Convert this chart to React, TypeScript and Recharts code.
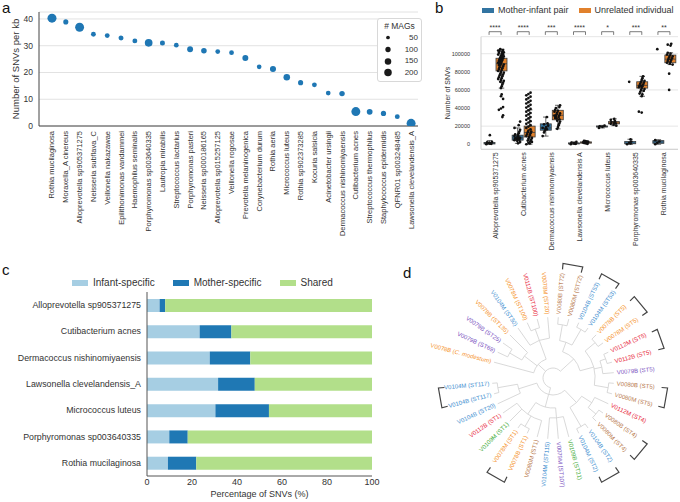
import React from "react";
import {
  ScatterChart,
  Scatter,
  XAxis,
  YAxis,
  ZAxis,
  CartesianGrid,
  Legend,
  ComposedChart,
  Bar,
  BarChart,
  PieChart,
  Pie,
} from "recharts";

const FONT = "'Liberation Sans', Arial, Helvetica, sans-serif";
const TEXT = "#333";
const RAD = Math.PI / 180;

// ---------- a: SNVs per kb ----------
const speciesA = [
  "Rothia mucilaginosa", "Moraxella_A cinereus", "Alloprevotella sp905371275", "Neisseria subflava_C",
  "Veillonella nakazawae", "Epilithonimonas vandammei", "Haemophilus seminalis", "Porphyromonas sp003640335",
  "Lautropia mirabilis", "Streptococcus lactarius", "Porphyromonas pasteri", "Neisseria sp000186165",
  "Alloprevotella sp015257125", "Veillonella rogosae", "Prevotella melaninogenica", "Corynebacterium durum",
  "Rothia aeria", "Micrococcus luteus", "Rothia sp902373285", "Kocuria salsicia", "Acinetobacter ursingii",
  "Dermacoccus nishinomiyaensis", "Cutibacterium acnes", "Streptococcus thermophilus",
  "Staphylococcus epidermidis", "QFNR01 sp003248485", "Lawsonella clevelandensis_A",
];
const snvPerKb = [40.3, 38.9, 36.9, 34.3, 33.8, 32.9, 31.8, 31.1, 31.0, 30.2, 28.7, 28.1, 27.8, 27.4, 25.4, 22.1, 21.3, 18.2, 16.2, 15.4, 12.3, 12.1, 5.4, 5.3, 4.7, 3.5, 1.0];
const magCount = [290, 60, 280, 50, 48, 55, 50, 200, 55, 45, 96, 80, 45, 45, 100, 42, 105, 130, 62, 48, 44, 75, 285, 90, 65, 50, 285];
const magLegend = [50, 100, 150, 200];

// ---------- b: SNVs between pairs ----------
const groupsB = [
  "Alloprevotella sp905371275", "Cutibacterium acnes", "Dermacoccus nishinomiyaensis",
  "Lawsonella clevelandensis A", "Micrococcus luteus", "Porphyromonas sp003640335", "Rothia mucilaginosa",
];
const sigB = ["****", "****", "***", "****", "*", "***", "**"];
// [low whisker, q1, median, q3, high whisker]
const motherBox = [
  [0, 300, 1000, 2000, 4000],
  [1000, 4500, 7000, 10000, 18000],
  [9000, 15500, 18000, 22500, 30000],
  [0, 300, 800, 1500, 2500],
  [18000, 19000, 19500, 20200, 20800],
  [0, 500, 1200, 3000, 5500],
  [0, 1000, 2500, 4000, 5000],
];
const unrelatedBox = [
  [62000, 81000, 89000, 95000, 105000],
  [0, 8000, 13000, 20000, 38000],
  [17000, 27000, 32000, 37500, 43000],
  [500, 1200, 1800, 2600, 3800],
  [20500, 22500, 23500, 25000, 28000],
  [53000, 62000, 65000, 69000, 75000],
  [88000, 90000, 94000, 98500, 101000],
];
const motherPts = [
  [0, 500, 800, 1200, 1500, 2000, 2500, 10000],
  [1000, 2500, 3500, 4500, 5000, 5500, 6000, 6500, 7000, 7500, 8000, 9000, 10000, 11000, 12000, 14000, 16000, 18000, 21000, 25000],
  [9000, 13000, 15000, 16500, 17000, 18000, 19000, 20500, 22000, 23000, 30000],
  [0, 400, 800, 1200, 1800, 2500],
  [18000, 19200, 19800, 20500],
  [0, 800, 1500, 3000, 5500, 69000],
  [0, 1500, 3000, 4500, 105000],
];
const unrelatedPts = [
  [105000, 104000, 103500, 103000, 102000, 101500, 101000, 100000, 99500, 99000, 98000, 97500, 97000, 96000, 95500, 95000, 94000, 93500, 93000, 92000, 91500, 91000, 90000, 89500, 89000, 88000, 87500, 87000, 86000, 85000, 84000, 83000, 82000, 81000, 80000, 79000, 78000, 77000, 76000, 75000, 74000, 73000, 72000, 71000, 70000, 69000, 68000, 66000, 64000, 62000, 55000, 53000, 50000, 41000, 39500, 38000, 32000, 30000],
  [0, 800, 1500, 2500, 3200, 4000, 5000, 6000, 7000, 8000, 9000, 10000, 11000, 12000, 13000, 14000, 15000, 16500, 18000, 19500, 21000, 22500, 24000, 25500, 27000, 28500, 30000, 31500, 33000, 34500, 36000, 37500, 39000, 40500, 42000, 43500, 45000, 46500, 48000, 49500, 51000, 52500, 54000, 55500, 57000],
  [17000, 19000, 21000, 23000, 25000, 26000, 27500, 28500, 29000, 30000, 31000, 31500, 32000, 33000, 34000, 35000, 36000, 37000, 38000, 40000, 41000, 43000],
  [500, 1000, 1400, 1800, 2200, 2600, 3000, 3500, 3800],
  [20500, 21500, 22500, 23000, 23500, 24500, 25500, 27000, 28000],
  [53000, 55000, 56000, 58000, 59000, 60000, 61000, 62000, 63000, 64000, 64500, 65000, 66000, 67000, 68000, 69000, 70000, 71000, 73000, 75000, 36000, 35000],
  [88000, 89000, 90000, 91000, 92000, 93000, 94000, 95000, 96000, 97000, 98000, 99000, 100000, 101000, 109000, 110000, 111000, 78000, 60000],
];

// ---------- c: SNV sharing ----------
const speciesC = [
  "Alloprevotella sp905371275", "Cutibacterium acnes", "Dermacoccus nishinomiyaensis",
  "Lawsonella clevelandensis_A", "Micrococcus luteus", "Porphyromonas sp003640335", "Rothia mucilaginosa",
];
const infantSpecific = [5.6, 23.4, 27.9, 31.6, 30.4, 9.9, 9.3];
const motherSpecific = [2.5, 14.1, 18.0, 16.3, 23.8, 8.2, 12.6];
const sharedPct = [91.9, 62.5, 54.1, 52.1, 45.8, 81.9, 78.1];

// ---------- d: strain tree ----------
const leaves = [
  "V0080B (ST5)", "V0079B (ST5)", "V0112B (ST5)", "V0112M (ST5)", "V0078M (ST5)", "V0078B (ST5)",
  "V0104M (ST53)", "V0104B (ST53)", "V0080M (ST72)", "V0080B (ST72)", "V0078M (ST20)", "V0112B (ST100)",
  "V0078M (ST100)", "V0104M (ST30)", "V0078B (ST135)", "V0079B (ST25)", "V0079B (ST69)", "V0078B (C. modestum)",
  "V0104M (ST117)", "V0104B (ST117)", "V0104B (ST20)", "V0112B (ST1)", "V0109M (ST1)", "V0078M (ST1)",
  "V0078B (ST1)", "V0080M (ST1)", "V0104M (ST115)", "V0079M (ST107)", "V0109B (ST21)", "V0104M (ST2)",
  "V0104B (ST2)", "V0080M (ST4)", "V0080B (ST4)", "V0112M (ST4)", "V0080M (ST5)",
];
// same-strain pairs, as leaf indices
const bracketPairs = [[34, 0], [2, 3], [4, 5], [6, 7], [8, 9], [18, 19], [23, 24], [29, 30], [31, 32]];
type TreeNode = number | { r: number; c: TreeNode[] };
const tree: TreeNode = {
  r: 10,
  c: [
    {
      r: 28,
      c: [
        { r: 42, c: [{ r: 56, c: [34, 0] }, { r: 50, c: [1, { r: 56, c: [2, 3] }] }, { r: 55, c: [4, 5] }] },
        { r: 38, c: [{ r: 56, c: [6, 7] }, { r: 54, c: [8, 9] }] },
      ],
    },
    {
      r: 20,
      c: [
        { r: 40, c: [10, { r: 52, c: [11, 12] }, 13] },
        { r: 36, c: [14, { r: 50, c: [15, 16] }] },
        17,
      ],
    },
    {
      r: 17,
      c: [
        { r: 36, c: [{ r: 56, c: [18, 19] }, 20] },
        { r: 30, c: [{ r: 44, c: [21, 22, { r: 56, c: [23, 24] }, 25] }, { r: 40, c: [26, 27, 28] }] },
        { r: 34, c: [{ r: 56, c: [29, 30] }, { r: 46, c: [{ r: 56, c: [31, 32] }, 33] }] },
      ],
    },
  ],
};

const BLUE_B = "#3274a1";
const ORANGE_B = "#e1812c";
const subjectColor: Record<string, string> = {
  V0078: "#f5922a",
  V0079: "#7d55bf",
  V0080: "#b7784b",
  V0104: "#3b8dcf",
  V0109: "#3fac3a",
  V0112: "#e8283c",
};

const axisTitle = (text: string, dx: number, fontSize: number) => (props: any) => {
  const { x, y, height } = props.viewBox;
  const cx = x + dx;
  const cy = y + height / 2;
  return (
    <text x={cx} y={cy} transform={`rotate(-90, ${cx}, ${cy})`} textAnchor="middle" dominantBaseline="central" fontSize={fontSize} fill={TEXT}>
      {text}
    </text>
  );
};

const RotTick = ({ x, y, text, fontSize }: any) => (
  <text x={x} y={y} transform={`rotate(-90, ${x}, ${y})`} textAnchor="end" dominantBaseline="central" fontSize={fontSize} fill={TEXT}>
    {text}
  </text>
);

// ---------- panel a ----------
const AREA_PER_MAG = 0.22;
const magRadius = (m: number) => Math.sqrt((AREA_PER_MAG * m) / Math.PI);

const MagLegend = () => (
  <div style={{ width: 45, height: 64, boxSizing: "border-box", border: "1px solid #d8d8d8", borderRadius: 3, background: "#fff", color: TEXT, paddingTop: 2 }}>
    <div style={{ textAlign: "center", fontSize: 8.5, lineHeight: "11px" }}># MAGs</div>
    {magLegend.map((m) => (
      <div key={m} style={{ display: "flex", alignItems: "center", height: 11.7 }}>
        <svg width={20} height={11}>
          <circle cx={10} cy={5.5} r={magRadius(m)} fill="#1a1a1a" />
        </svg>
        <span style={{ width: 20, textAlign: "right", fontSize: 8, lineHeight: "10px" }}>{m}</span>
      </div>
    ))}
  </div>
);

function PanelA() {
  const data = speciesA.map((name, i) => ({ i, name, snv: snvPerKb[i], mags: magCount[i] }));
  const zMin = Math.min(...magCount);
  const zMax = Math.max(...magCount);
  return (
    <ScatterChart width={430} height={270} margin={{ top: 12, right: 12, bottom: 0, left: 0 }}>
      <CartesianGrid vertical={false} stroke="#e2e2e2" />
      <XAxis
        type="number"
        dataKey="i"
        domain={[-0.94, 26.5]}
        ticks={data.map((d) => d.i)}
        interval={0}
        allowDataOverflow
        height={144}
        tickLine={false}
        tickSize={0}
        tickMargin={5}
        axisLine={{ stroke: "#444" }}
        tick={(p: any) => <RotTick x={p.x} y={p.y} text={speciesA[p.payload.value]} fontSize={7.5} />}
      />
      <YAxis
        type="number"
        dataKey="snv"
        domain={[0, 42.6]}
        ticks={[0, 10, 20, 30, 40]}
        allowDataOverflow
        width={39}
        tickLine={false}
        tickSize={0}
        tickMargin={6}
        axisLine={{ stroke: "#444" }}
        tick={{ fontSize: 8.5, fill: TEXT }}
        label={axisTitle("Number of SNVs per kb", 15, 9.5)}
      />
      <ZAxis type="number" dataKey="mags" range={[AREA_PER_MAG * zMin, AREA_PER_MAG * zMax]} />
      <Scatter data={data} fill="#1f77b4" isAnimationActive={false} />
      <Legend layout="horizontal" verticalAlign="middle" align="center" wrapperStyle={{ top: 18, left: 377, width: 45 }} content={() => <MagLegend />} />
    </ScatterChart>
  );
}

// ---------- panel b ----------
const BoxShape = ({ x, y, width, height, stats, fill }: any) => {
  const [lo, q1, med, q3, hi] = stats;
  const k = height / (q3 - q1);
  const at = (v: number) => y + (q3 - v) * k;
  const cx = x + width / 2;
  const cap = width * 0.25;
  return (
    <g stroke="#3d3d3d" strokeWidth={0.8}>
      <line x1={cx} x2={cx} y1={at(hi)} y2={y} />
      <line x1={cx} x2={cx} y1={y + height} y2={at(lo)} />
      <line x1={cx - cap} x2={cx + cap} y1={at(hi)} y2={at(hi)} />
      <line x1={cx - cap} x2={cx + cap} y1={at(lo)} y2={at(lo)} />
      <rect x={x} y={y} width={width} height={Math.max(height, 0.8)} fill={fill} />
      <line x1={x} x2={x + width} y1={at(med)} y2={at(med)} />
    </g>
  );
};

const jitter = (v: number) => ((((Math.round(v / 500) * 7) % 9) + 9) % 9 - 4) * 0.7;

const StripDot = (p: any) => <circle cx={p.cx + jitter(p.payload.y)} cy={p.cy} r={1.35} fill="#111" />;

const SigTick = ({ x, y, payload }: any) => {
  const s = sigB[groupsB.indexOf(payload.value)];
  return (
    <g>
      <text x={x} y={y - 6.5} textAnchor="middle" fontSize={7} fill={TEXT}>{s}</text>
      <path d={`M${x - 6},${y - 1.8} L${x - 6},${y - 5} L${x + 6},${y - 5} L${x + 6},${y - 1.8}`} fill="none" stroke="#444" strokeWidth={0.7} />
    </g>
  );
};

const LegendB = () => (
  <div style={{ display: "flex", alignItems: "center", fontSize: 9, lineHeight: "11px", color: TEXT, whiteSpace: "nowrap" }}>
    <span style={{ width: 12, height: 5, background: BLUE_B, marginRight: 4 }} />
    <span>Mother-infant pair</span>
    <span style={{ width: 12, height: 5, background: ORANGE_B, marginLeft: 10, marginRight: 4 }} />
    <span>Unrelated individual</span>
  </div>
);

function PanelB() {
  const data = groupsB.map((name, i) => ({
    name,
    mBox: [motherBox[i][1], motherBox[i][3]],
    uBox: [unrelatedBox[i][1], unrelatedBox[i][3]],
    mStats: motherBox[i],
    uStats: unrelatedBox[i],
  }));
  const pts = groupsB.flatMap((_, i) => [
    ...motherPts[i].map((v) => ({ x: i - 0.21, y: v })),
    ...unrelatedPts[i].map((v) => ({ x: i + 0.21, y: v })),
  ]);
  return (
    <ComposedChart width={250} height={270} data={data} margin={{ top: 6.7, right: 2, bottom: 0, left: 0 }} barSize={11} barGap={1}>
      <CartesianGrid vertical={false} stroke="#e6e6e6" />
      <XAxis
        dataKey="name"
        type="category"
        interval={0}
        height={120.7}
        tickLine={false}
        tickSize={0}
        tickMargin={3}
        axisLine={{ stroke: "#d0d0d0" }}
        tick={(p: any) => <RotTick x={p.x} y={p.y} text={p.payload.value} fontSize={7} />}
      />
      <XAxis xAxisId="sig" orientation="top" dataKey="name" type="category" interval={0} height={30} axisLine={false} tickLine={false} tickSize={0} tickMargin={0} tick={SigTick} />
      <XAxis xAxisId="pts" type="number" dataKey="x" domain={[-0.5, 6.5]} allowDataOverflow hide />
      <YAxis
        type="number"
        domain={[-5600, 118800]}
        ticks={[0, 20000, 40000, 60000, 80000, 100000]}
        allowDataOverflow
        width={51}
        tickLine={false}
        tickSize={0}
        tickMargin={11}
        axisLine={{ stroke: "#d0d0d0" }}
        tick={{ fontSize: 5.5, fill: TEXT }}
        label={axisTitle("Number of SNVs", 17, 7)}
      />
      <Bar dataKey="mBox" isAnimationActive={false} shape={(p: any) => <BoxShape {...p} stats={p.payload.mStats} fill={BLUE_B} />} />
      <Bar dataKey="uBox" isAnimationActive={false} shape={(p: any) => <BoxShape {...p} stats={p.payload.uStats} fill={ORANGE_B} />} />
      <Scatter xAxisId="pts" data={pts} dataKey="y" shape={StripDot} isAnimationActive={false} />
      <Legend layout="horizontal" verticalAlign="middle" align="center" wrapperStyle={{ top: 5, left: 52, width: 198 }} content={() => <LegendB />} />
    </ComposedChart>
  );
}

// ---------- panel c ----------
const C_INFANT = "#a6cee3";
const C_MOTHER = "#1f78b4";
const C_SHARED = "#b2df8a";

const LegendC = () => (
  <div style={{ display: "flex", alignItems: "center", fontSize: 10, lineHeight: "12px", color: TEXT, whiteSpace: "nowrap" }}>
    {[
      ["Infant-specific", C_INFANT],
      ["Mother-specific", C_MOTHER],
      ["Shared", C_SHARED],
    ].map(([label, color]) => (
      <span key={label} style={{ display: "flex", alignItems: "center", marginRight: 18 }}>
        <span style={{ width: 16, height: 6, background: color, marginRight: 5 }} />
        {label}
      </span>
    ))}
  </div>
);

const SpeciesTickC = ({ x, y, payload }: any) => (
  <text x={x} y={y} textAnchor="end" dominantBaseline="central" fontSize={8.8} fill={TEXT}>
    {payload.value}
  </text>
);

function PanelC() {
  const data = speciesC.map((name, i) => ({ name, infant: infantSpecific[i], mother: motherSpecific[i], shared: sharedPct[i] }));
  return (
    <BarChart layout="vertical" width={400} height={232} data={data} margin={{ top: 22, right: 28, bottom: 0, left: 0 }} barSize={13}>
      <XAxis
        type="number"
        domain={[0, 100]}
        ticks={[0, 20, 40, 60, 80, 100]}
        height={26}
        tickLine={false}
        tickSize={0}
        tickMargin={3}
        axisLine={{ stroke: "#555" }}
        tick={{ fontSize: 9, fill: TEXT }}
        label={(props: any) => {
          const { x, y, width } = props.viewBox;
          return (
            <text x={x + width / 2} y={y + 21} textAnchor="middle" fontSize={9} fill={TEXT}>
              Percentage of SNVs (%)
            </text>
          );
        }}
      />
      <YAxis type="category" dataKey="name" width={147} interval={0} tickLine={false} tickSize={0} tickMargin={6} axisLine={{ stroke: "#555" }} tick={SpeciesTickC} />
      <Bar dataKey="infant" stackId="s" fill={C_INFANT} isAnimationActive={false} />
      <Bar dataKey="mother" stackId="s" fill={C_MOTHER} isAnimationActive={false} />
      <Bar dataKey="shared" stackId="s" fill={C_SHARED} isAnimationActive={false} />
      <Legend layout="horizontal" verticalAlign="middle" align="center" wrapperStyle={{ top: 7, left: 72, width: 320 }} content={() => <LegendC />} />
    </BarChart>
  );
}

// ---------- panel d ----------
const D_START = -10;
const D_SLOTS = 36; // 35 leaves + one open slot before V0104M (ST117)
const D_STEP = 360 / D_SLOTS;
const TIP = 61;
const LABEL_R = 64;
const BRACKET_R = 115;

const leafSlots = [...leaves.slice(0, 18), null, ...leaves.slice(18)].map((leaf) => ({ value: 1, leaf }));

const leafAngle = (i: number) => {
  const slot = i < 18 ? i : i + 1;
  const a = D_START + D_STEP * (slot + 0.5);
  return a > 340 ? a - 360 : a;
};

const polar = (cx: number, cy: number, r: number, a: number) => [cx + r * Math.cos(-a * RAD), cy + r * Math.sin(-a * RAD)];

const LeafLabel = (p: any) => {
  const leaf: string | null = p.payload?.leaf ?? p.leaf ?? null;
  if (!leaf) return null;
  const a = p.midAngle;
  const [x, y] = polar(p.cx, p.cy, LABEL_R, a);
  const right = Math.cos(a * RAD) >= 0;
  const rot = right ? -a : 180 - a;
  const open = leaf.indexOf("(");
  const inner = leaf.slice(open + 1, -1);
  return (
    <text x={x} y={y} transform={`rotate(${rot}, ${x}, ${y})`} textAnchor={right ? "start" : "end"} dominantBaseline="central" fontSize={6} fill={subjectColor[leaf.slice(0, 5)]}>
      {leaf.slice(0, open + 1)}
      {inner.startsWith("ST") ? inner : <tspan fontStyle="italic">{inner}</tspan>}
      {")"}
    </text>
  );
};

const TreeLines = (p: any) => {
  const { cx, cy } = p;
  const paths: string[] = [];
  const walk = (node: TreeNode, parentR: number): number => {
    if (typeof node === "number") {
      const a = leafAngle(node);
      const [x1, y1] = polar(cx, cy, parentR, a);
      const [x2, y2] = polar(cx, cy, TIP, a);
      paths.push(`M${x1},${y1}L${x2},${y2}`);
      return a;
    }
    const angles = node.c.map((ch) => walk(ch, node.r));
    const lo = Math.min(...angles);
    const hi = Math.max(...angles);
    const [ax, ay] = polar(cx, cy, node.r, lo);
    const [bx, by] = polar(cx, cy, node.r, hi);
    paths.push(`M${ax},${ay}A${node.r},${node.r} 0 ${hi - lo > 180 ? 1 : 0} 0 ${bx},${by}`);
    const mid = (lo + hi) / 2;
    if (parentR < node.r) {
      const [x1, y1] = polar(cx, cy, parentR, mid);
      const [x2, y2] = polar(cx, cy, node.r, mid);
      paths.push(`M${x1},${y1}L${x2},${y2}`);
    }
    return mid;
  };
  walk(tree, typeof tree === "number" ? 0 : tree.r);
  return <path d={paths.join("")} fill="none" stroke="#cfcfcf" strokeWidth={0.8} />;
};

// bracket ring: segments along the same slots, starting at slot of leaf 34
const bracketSegments = (() => {
  const slotOf = (i: number) => (i < 18 ? i : i + 1);
  const starts = new Set<number>();
  bracketPairs.forEach(([a, b]) => {
    const sa = (slotOf(a) + 1) % D_SLOTS;
    const sb = (slotOf(b) + 1) % D_SLOTS;
    starts.add(Math.min(sa, sb));
  });
  const segs: { value: number; bracket: boolean }[] = [];
  let gap = 0;
  for (let s = 0; s < D_SLOTS; ) {
    if (starts.has(s)) {
      if (gap) segs.push({ value: gap, bracket: false });
      gap = 0;
      segs.push({ value: 2, bracket: true });
      s += 2;
    } else {
      gap += 1;
      s += 1;
    }
  }
  if (gap) segs.push({ value: gap, bracket: false });
  return segs;
})();

const BracketMark = (p: any) => {
  const isBracket = p.payload?.bracket ?? p.bracket;
  if (!isBracket) return null;
  const a1 = p.startAngle + D_STEP / 2;
  const a2 = p.endAngle - D_STEP / 2;
  const [x1, y1] = polar(p.cx, p.cy, BRACKET_R, a1);
  const [x2, y2] = polar(p.cx, p.cy, BRACKET_R, a2);
  const [i1x, i1y] = polar(p.cx, p.cy, BRACKET_R - 6, a1);
  const [i2x, i2y] = polar(p.cx, p.cy, BRACKET_R - 6, a2);
  return <path d={`M${i1x},${i1y}L${x1},${y1}L${x2},${y2}L${i2x},${i2y}`} fill="none" stroke="#444" strokeWidth={1.2} />;
};

function PanelD() {
  const cx = 163;
  const cy = 123;
  return (
    <PieChart width={290} height={247} margin={{ top: 0, right: 0, bottom: 0, left: 0 }}>
      <Pie data={[{ value: 1 }]} dataKey="value" cx={cx} cy={cy} innerRadius={0} outerRadius={1} fill="none" stroke="none" label={TreeLines} labelLine={false} isAnimationActive={false} />
      <Pie data={leafSlots} dataKey="value" cx={cx} cy={cy} startAngle={D_START} endAngle={D_START + 360} innerRadius={60} outerRadius={61} fill="none" stroke="none" label={LeafLabel} labelLine={false} isAnimationActive={false} />
      <Pie data={bracketSegments} dataKey="value" cx={cx} cy={cy} startAngle={D_START - D_STEP} endAngle={D_START - D_STEP + 360} innerRadius={BRACKET_R - 1} outerRadius={BRACKET_R} fill="none" stroke="none" label={BracketMark} labelLine={false} isAnimationActive={false} />
    </PieChart>
  );
}

export default function App() {
  return (
    <div style={{ position: "absolute", left: 0, top: 0, width: 680, height: 502, background: "#fff", fontFamily: FONT, overflow: "hidden" }}>
      <div style={{ position: "absolute", left: 0, top: 0 }}>
        <PanelA />
      </div>
      <div style={{ position: "absolute", left: 430, top: 0 }}>
        <PanelB />
      </div>
      <div style={{ position: "absolute", left: 0, top: 270 }}>
        <PanelC />
      </div>
      <div style={{ position: "absolute", left: 390, top: 255 }}>
        <PanelD />
      </div>
      <svg width={680} height={502} style={{ position: "absolute", left: 0, top: 0, pointerEvents: "none" }}>
        <g fontSize={15} fill="#111">
          <text x={2} y={13}>a</text>
          <text x={435} y={13}>b</text>
          <text x={2} y={275}>c</text>
          <text x={403} y={278}>d</text>
        </g>
      </svg>
    </div>
  );
}
